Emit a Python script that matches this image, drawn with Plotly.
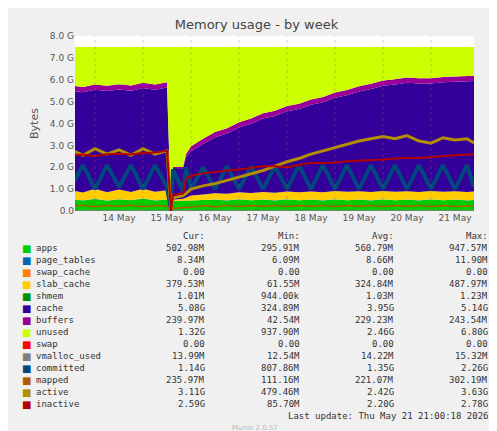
import plotly.graph_objects as go

times = ["2026-05-13 12:00", "2026-05-13 18:00", "2026-05-14 00:00", "2026-05-14 06:00",
         "2026-05-14 12:00", "2026-05-14 18:00", "2026-05-15 00:00", "2026-05-15 06:00",
         "2026-05-15 12:00", "2026-05-15 14:00", "2026-05-15 15:00", "2026-05-15 20:00",
         "2026-05-15 21:30", "2026-05-16 00:00", "2026-05-16 06:00", "2026-05-16 12:00",
         "2026-05-16 18:00", "2026-05-17 00:00", "2026-05-17 06:00", "2026-05-17 12:00",
         "2026-05-17 18:00", "2026-05-18 00:00", "2026-05-18 06:00", "2026-05-18 12:00",
         "2026-05-18 18:00", "2026-05-19 00:00", "2026-05-19 06:00", "2026-05-19 12:00",
         "2026-05-19 18:00", "2026-05-20 00:00", "2026-05-20 06:00", "2026-05-20 12:00",
         "2026-05-20 18:00", "2026-05-21 00:00", "2026-05-21 06:00", "2026-05-21 12:00",
         "2026-05-21 18:00", "2026-05-21 21:30"]

# values in GB
apps = [0.52, 0.48, 0.55, 0.47, 0.53, 0.49, 0.56, 0.48, 0.52, 0.02, 0.45, 0.47, 0.50,
        0.50, 0.50, 0.52, 0.48, 0.53, 0.49, 0.52, 0.48, 0.53, 0.49, 0.52, 0.48, 0.53,
        0.49, 0.52, 0.48, 0.53, 0.49, 0.52, 0.48, 0.53, 0.49, 0.52, 0.48, 0.50]
page_tables = [0.009] * 9 + [0.0] + [0.006] * 28
slab_cache = [0.42, 0.36, 0.46, 0.38, 0.44, 0.37, 0.45, 0.39, 0.42, 0.0, 0.06, 0.08, 0.10,
              0.20, 0.25, 0.28, 0.30, 0.32, 0.33, 0.34, 0.35, 0.36, 0.36, 0.37, 0.37, 0.38,
              0.38, 0.38, 0.38, 0.38, 0.38, 0.38, 0.38, 0.38, 0.38, 0.38, 0.38, 0.38]
shmem = [0.001] * 38
cache = [4.55, 4.58, 4.52, 4.62, 4.57, 4.63, 4.60, 4.66, 4.70, 0.0, 1.45, 1.40, 1.85,
         2.03, 2.31, 2.56, 2.76, 2.96, 3.16, 3.36, 3.51, 3.66, 3.81, 3.96, 4.11, 4.26,
         4.41, 4.56, 4.71, 4.81, 4.91, 4.96, 4.96, 4.91, 5.01, 5.01, 5.06, 5.06]
buffers = [0.24] * 9 + [0.0, 0.04, 0.06, 0.15, 0.22] + [0.24] * 24
swap = [0.0] * 38
total_ram = 7.5

vmalloc_used = [0.014] * 38
committed = [1.1, 2.1, 1.0, 2.1, 1.1, 2.1, 1.0, 2.1, 1.1, 0.0, 1.9, 0.9, 2.0,
             1.0, 2.0, 1.0, 2.05, 1.0, 2.05, 1.0, 2.05, 1.0, 2.1, 1.0, 2.1, 1.0,
             2.1, 1.0, 2.1, 1.0, 2.1, 1.0, 2.1, 1.0, 2.1, 1.0, 2.1, 1.1]
mapped = [0.22, 0.26, 0.20, 0.25, 0.22, 0.26, 0.20, 0.25, 0.22, 0.0, 0.12, 0.15, 0.18,
          0.20, 0.24, 0.20, 0.25, 0.21, 0.25, 0.21, 0.25, 0.21, 0.25, 0.21, 0.25, 0.21,
          0.25, 0.21, 0.25, 0.21, 0.25, 0.21, 0.25, 0.21, 0.25, 0.21, 0.25, 0.24]
active = [2.8, 2.55, 2.85, 2.6, 2.8, 2.55, 2.85, 2.6, 2.75, 0.0, 0.6, 0.7, 0.8,
          1.0, 1.15, 1.25, 1.4, 1.55, 1.7, 1.85, 2.05, 2.25, 2.4, 2.6, 2.75, 2.9,
          3.05, 3.2, 3.3, 3.4, 3.3, 3.45, 3.2, 3.1, 3.35, 3.25, 3.3, 3.11]
inactive = [2.55, 2.58, 2.5, 2.6, 2.62, 2.58, 2.65, 2.68, 2.75, 0.0, 0.75, 0.8, 1.5,
            1.6, 1.72, 1.8, 1.85, 1.9, 1.97, 2.05, 2.05, 2.0, 2.1, 2.2, 2.2, 2.22,
            2.28, 2.3, 2.3, 2.35, 2.4, 2.44, 2.42, 2.45, 2.5, 2.55, 2.56, 2.59]

unused = [total_ram - (a + p + s + sh + c + b) for a, p, s, sh, c, b in
          zip(apps, page_tables, slab_cache, shmem, cache, buffers)]
swap_cache = [0.0] * 38

legend_rows = [
    ("apps", "#00CC00", "502.98M", "295.91M", "560.79M", "947.57M"),
    ("page_tables", "#0066B3", "8.34M", "6.09M", "8.66M", "11.90M"),
    ("swap_cache", "#FF8000", "0.00", "0.00", "0.00", "0.00"),
    ("slab_cache", "#FFCC00", "379.53M", "61.55M", "324.84M", "487.97M"),
    ("shmem", "#008F00", "1.01M", "944.00k", "1.03M", "1.23M"),
    ("cache", "#330099", "5.08G", "324.89M", "3.95G", "5.14G"),
    ("buffers", "#990099", "239.97M", "42.54M", "229.23M", "243.54M"),
    ("unused", "#CCFF00", "1.32G", "937.90M", "2.46G", "6.80G"),
    ("swap", "#FF0000", "0.00", "0.00", "0.00", "0.00"),
    ("vmalloc_used", "#808080", "13.99M", "12.54M", "14.22M", "15.32M"),
    ("committed", "#00487D", "1.14G", "807.86M", "1.35G", "2.26G"),
    ("mapped", "#B35A00", "235.97M", "111.16M", "221.07M", "302.19M"),
    ("active", "#B38F00", "3.11G", "479.46M", "2.42G", "3.63G"),
    ("inactive", "#B30000", "2.59G", "85.70M", "2.20G", "2.78G"),
]
colors = {r[0]: r[1] for r in legend_rows}

fig = go.Figure()
stacked = [("apps", apps), ("page_tables", page_tables), ("swap_cache", swap_cache),
           ("slab_cache", slab_cache), ("shmem", shmem), ("cache", cache),
           ("buffers", buffers), ("unused", unused), ("swap", swap)]
for name, vals in stacked:
    fig.add_trace(go.Scatter(x=times, y=vals, name=name, stackgroup="mem", mode="lines",
                             line=dict(width=0, color=colors[name]),
                             fillcolor=colors[name]))

for name, vals, w in [("vmalloc_used", vmalloc_used, 1), ("committed", committed, 4),
                      ("mapped", mapped, 1.5), ("active", active, 3), ("inactive", inactive, 2)]:
    fig.add_trace(go.Scatter(x=times, y=vals, name=name, mode="lines",
                             line=dict(width=w, color=colors[name])))

L, R, T, B = 67, 466, 28, 203
W, H = 497, 431


def px(x):
    return (x - L) / (R - L)


def py(y):
    return (B - y) / (B - T)


mono = dict(family="DejaVu Sans Mono", size=9, color="#333333")
ann = []
for x, txt in [(199, "Cur:"), (294, "Min:"), (388, "Avg:"), (482, "Max:")]:
    ann.append(dict(x=px(x), y=py(228), text=txt, xanchor="right"))
for i, (name, col, cur, mn, avg, mx) in enumerate(legend_rows):
    y = 240 + i * 12
    ann.append(dict(x=px(12), y=py(y), text="<span style='color:%s'>■</span>" % col,
                    xanchor="left", font=dict(family="DejaVu Sans", size=10)))
    ann.append(dict(x=px(26), y=py(y), text=name, xanchor="left"))
    for x, v in [(199, cur), (294, mn), (388, avg), (482, mx)]:
        ann.append(dict(x=px(x), y=py(y), text=v, xanchor="right"))
ann.append(dict(x=px(482), y=py(408), text="Last update: Thu May 21 21:00:18 2026",
                xanchor="right"))
ann.append(dict(x=px(247), y=py(420), text="Munin 2.0.57", xanchor="center",
                font=dict(family="DejaVu Sans", size=7, color="#BBBBBB")))
ann.append(dict(x=px(487), y=py(55), text="RRDTOOL / TOBI OETIKER", textangle=90,
                xanchor="center", font=dict(family="DejaVu Sans", size=6, color="#BBBBBB")))
for a in ann:
    a.update(xref="paper", yref="paper", showarrow=False, yanchor="middle")
    a.setdefault("font", mono)

fig.update_layout(
    width=W, height=H,
    margin=dict(l=L, r=W - R, t=T, b=H - B),
    paper_bgcolor="#F0F0F0", plot_bgcolor="#FFFFFF",
    showlegend=False,
    title=dict(text="Memory usage - by week", x=0.5, y=0.972, xanchor="center",
               font=dict(family="DejaVu Sans", size=13, color="#444444")),
    font=dict(family="DejaVu Sans", size=9, color="#555555"),
    annotations=ann,
)
fig.update_xaxes(range=["2026-05-13 14:00", "2026-05-21 21:30"],
                 tickvals=["2026-05-%02d 12:00" % d for d in range(14, 22)],
                 ticktext=["%d May" % d for d in range(14, 22)],
                 showgrid=False, ticks="", zeroline=False)
fig.update_yaxes(range=[0, 8], tickvals=[0, 1, 2, 3, 4, 5, 6, 7, 8],
                 ticktext=["0.0"] + ["%.1f G" % v for v in range(1, 9)],
                 gridcolor="#F0B0B0", griddash="dot", zeroline=False,
                 title=dict(text="Bytes", font=dict(size=11), standoff=8))
for d in range(14, 22):
    fig.add_vline(x="2026-05-%02d 00:00" % d,
                  line=dict(color="rgba(200,80,80,0.35)", width=1, dash="dot"),
                  layer="above")

fig.write_html("out.html")
